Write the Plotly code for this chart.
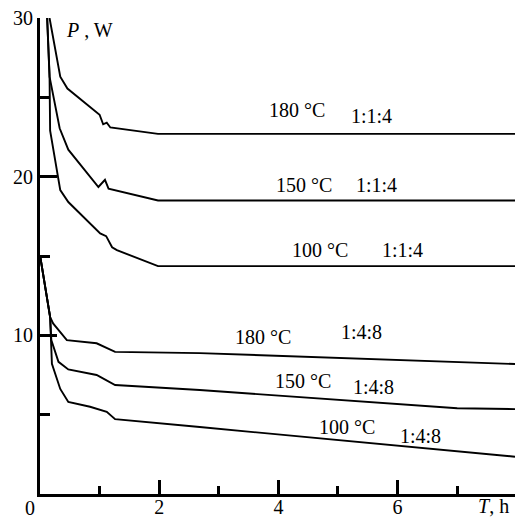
import plotly.graph_objects as go

# ---- data (T in hours, P in watts) ----
t_180_114 = [0.16, 0.34, 0.46, 1.00, 1.06, 1.12, 1.18, 1.98, 7.97]
p_180_114 = [30.0, 26.3, 25.55, 23.9, 23.3, 23.4, 23.1, 22.7, 22.7]

t_150_114 = [0.12, 0.16, 0.33, 0.475, 0.98, 1.09, 1.15, 1.98, 7.97]
p_150_114 = [30.0, 26.3, 23.05, 21.7, 19.35, 19.8, 19.25, 18.5, 18.5]

t_100_114 = [0.12, 0.16, 0.17, 0.30, 0.34, 0.475, 0.95, 1.01, 1.11, 1.21, 1.29, 1.98, 7.97]
p_100_114 = [30.0, 26.4, 22.9, 19.9, 19.15, 18.4, 16.6, 16.42, 16.25, 15.55, 15.37, 14.36, 14.36]

t_180_148 = [0.0, 0.17, 0.22, 0.45, 0.95, 1.01, 1.26, 2.68, 7.97]
p_180_148 = [15.05, 11.15, 10.75, 9.7, 9.5, 9.4, 8.96, 8.88, 8.19]

t_150_148 = [0.0, 0.17, 0.19, 0.31, 0.475, 0.95, 1.01, 1.26, 2.68, 7.0, 7.97]
p_150_148 = [15.05, 11.15, 9.7, 8.33, 7.85, 7.5, 7.38, 6.87, 6.55, 5.4, 5.35]

t_100_148 = [0.0, 0.17, 0.20, 0.34, 0.475, 0.84, 1.12, 1.26, 2.68, 7.97]
p_100_148 = [15.05, 11.15, 8.2, 6.62, 5.8, 5.5, 5.18, 4.72, 4.22, 2.35]

x_ticks = [0, 2, 4, 6]
x_ticktext = ["", "2", "4", "6"]
y_ticks = [10, 20, 30]
y_ticktext = ["10", "20", "30"]

# curve labels: (text, x, y)
labels = [
    ("180 °C", 4.31, 24.2), ("1:1:4", 5.57, 23.82),
    ("150 °C", 4.43, 19.47), ("1:1:4", 5.65, 19.47),
    ("100 °C", 4.70, 15.37), ("1:1:4", 6.09, 15.37),
    ("180 °C", 3.74, 9.89), ("1:4:8", 5.39, 10.2),
    ("150 °C", 4.41, 7.12), ("1:4:8", 5.60, 6.74),
    ("100 °C", 5.15, 4.22), ("1:4:8", 6.38, 3.65),
]

FONT = "Liberation Serif"

fig = go.Figure()
series = [
    (t_180_114, p_180_114), (t_150_114, p_150_114), (t_100_114, p_100_114),
    (t_180_148, p_180_148), (t_150_148, p_150_148), (t_100_148, p_100_148),
]
for t, p in series:
    fig.add_trace(go.Scatter(x=t, y=p, mode="lines",
                             line=dict(color="black", width=1.9),
                             cliponaxis=False, showlegend=False, hoverinfo="skip"))

for txt, x, y in labels:
    fig.add_annotation(x=x, y=y, xref="x", yref="y", text=txt, showarrow=False,
                       font=dict(family=FONT, size=20, color="black"))

fig.add_annotation(x=0.40, y=29.24, xref="x", yref="y", text="<i>P</i> , W",
                   showarrow=False, xanchor="left",
                   font=dict(family=FONT, size=20, color="black"))
fig.add_annotation(x=0.918, y=-0.026, xref="paper", yref="paper", text="<i>T</i>, h",
                   showarrow=False, xanchor="left", yanchor="middle",
                   font=dict(family=FONT, size=20, color="black"))
fig.add_annotation(x=-0.021, y=-0.029, xref="paper", yref="paper", text="0",
                   showarrow=False, xanchor="center", yanchor="middle",
                   font=dict(family=FONT, size=20, color="black"))

fig.update_layout(
    width=515, height=517,
    margin=dict(l=40, r=0, t=18, b=23, autoexpand=False),
    paper_bgcolor="white", plot_bgcolor="white",
    font=dict(family=FONT, size=20, color="black"),
    xaxis=dict(range=[0, 7.97], tickmode="array", tickvals=x_ticks, ticktext=x_ticktext,
               ticks="inside", ticklen=14, tickwidth=3, tickcolor="black",
               minor=dict(dtick=1, tick0=0, ticks="inside", ticklen=8, tickwidth=3, tickcolor="black"),
               showline=True, linewidth=3, linecolor="black", automargin=False,
               ticklabelstandoff=-7,
               showgrid=False, zeroline=False, fixedrange=True),
    yaxis=dict(range=[0, 30], tickmode="array", tickvals=y_ticks, ticktext=y_ticktext,
               ticks="inside", ticklen=17, tickwidth=3, tickcolor="black",
               minor=dict(dtick=5, tick0=0, ticks="inside", ticklen=10, tickwidth=3, tickcolor="black"),
               showline=True, linewidth=3, linecolor="black", automargin=False,
               showgrid=False, zeroline=False, fixedrange=True),
)

fig.write_html("out.html", config={"displayModeBar": False},
               post_script="document.body.style.margin='0px';document.body.style.overflow='hidden';")
